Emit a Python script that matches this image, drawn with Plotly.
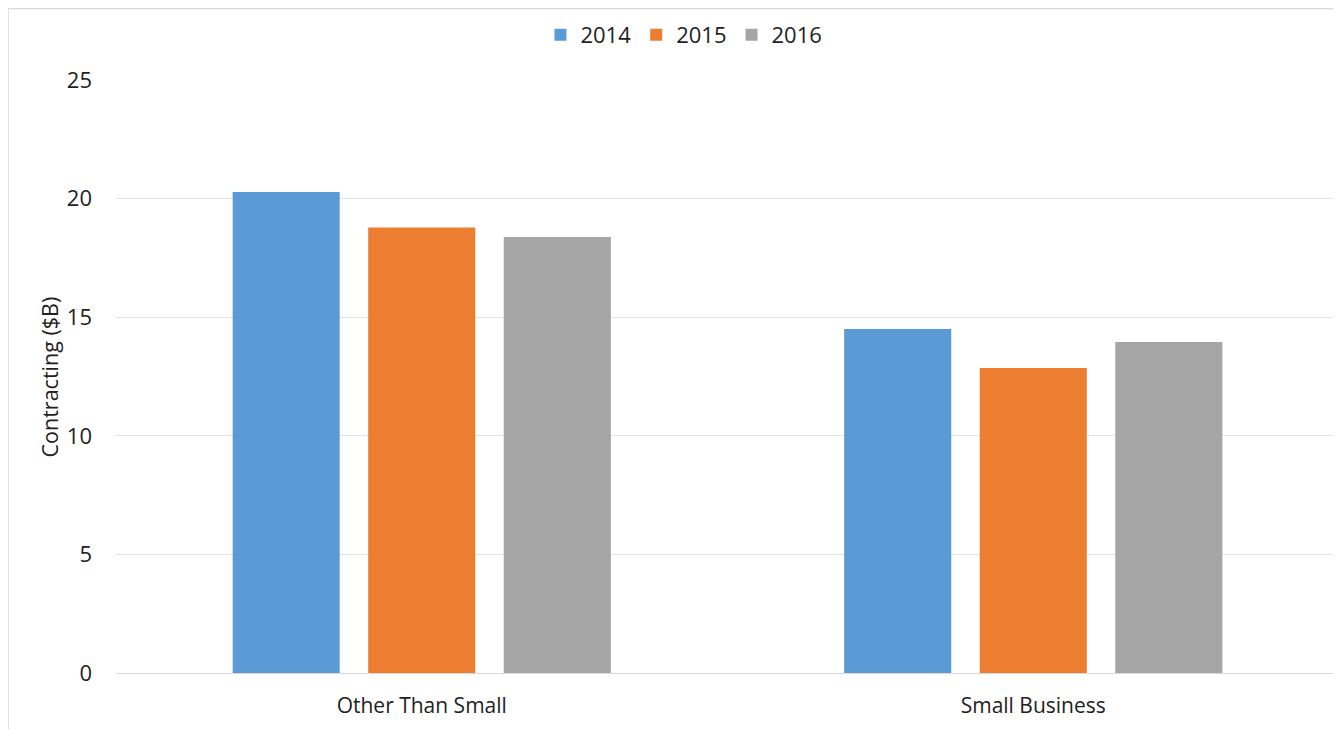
import plotly.graph_objects as go

categories = ["Other Than Small", "Small Business"]
years = ["2014", "2015", "2016"]
values_2014 = [20.28, 14.50]
values_2015 = [18.78, 12.86]
values_2016 = [18.38, 13.95]
colors = ["#5b9bd5", "#ed7d31", "#a5a5a5"]
y_ticks = [0, 5, 10, 15, 20, 25]

FONT = "Open Sans"
fig = go.Figure()
for name, vals, col in zip(years, [values_2014, values_2015, values_2016], colors):
    fig.add_trace(go.Bar(name=name, x=categories, y=vals, marker=dict(color=col, line=dict(width=0))))

fig.update_layout(
    width=1333, height=721,
    margin=dict(l=108, r=2, t=72, b=56),
    paper_bgcolor="white", plot_bgcolor="white",
    barmode="group", bargap=0.335, bargroupgap=0.21,
    font=dict(family=FONT, size=22, color="#222222"),
    legend=dict(orientation="h", x=0.4644, xanchor="center", y=1.0759, yanchor="middle",
                font=dict(size=22), itemwidth=30, traceorder="normal"),
    xaxis=dict(showgrid=False, showline=False, ticks="", tickfont=dict(size=21), ticklabelstandoff=18),
    yaxis=dict(range=[0, 25], tickvals=y_ticks, showgrid=True, gridcolor="#e3e3e3", gridwidth=1,
               zeroline=True, zerolinecolor="#d9d9d9", zerolinewidth=1, ticks="", ticklabelstandoff=23,
               tickfont=dict(size=22)),
    shapes=[dict(type="rect", xref="paper", yref="paper", x0=-0.0883, y0=-0.2, x1=1.06, y1=1.1206,
                 line=dict(color="#d9d9d9", width=1.5), fillcolor="rgba(0,0,0,0)", layer="below")],
    annotations=[dict(text="Contracting ($B)", xref="paper", yref="paper", x=-0.054, y=0.5,
                      textangle=-90, showarrow=False, font=dict(size=21.5, family=FONT),
                      xanchor="center", yanchor="middle")],
)
fig.write_html("out.html")
